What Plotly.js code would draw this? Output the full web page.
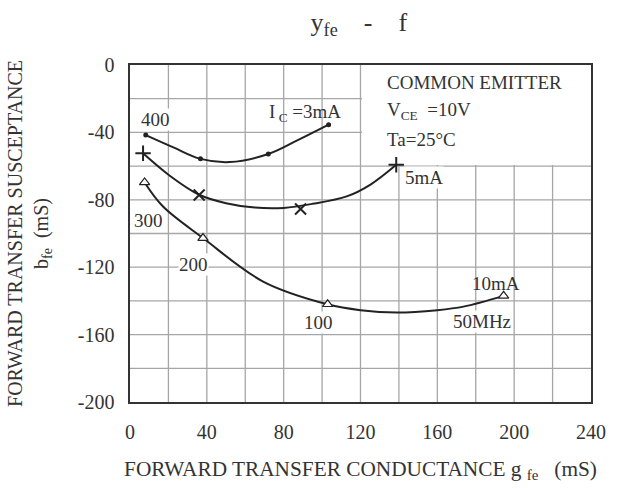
<!DOCTYPE html>
<html>
<head>
<meta charset="utf-8">
<script src="https://cdn.plot.ly/plotly-3.0.1.min.js"></script>
<style>html,body{margin:0;padding:0;background:#fff;}#chart{width:623px;height:488px;}</style>
</head>
<body>
<div id="chart"></div>
<script>
// ---- data ----
// Ic = 3 mA : traced curve and measured points
var ic3CurveX = [8.2, 22.6, 36.7, 52, 72, 86.8, 103.4];
var ic3CurveY = [-41.6, -48.9, -55.7, -57.6, -52.8, -44.9, -35.4];
var ic3PointX = [8.2, 36.7, 72, 103.4];
var ic3PointY = [-41.6, -55.7, -52.8, -35.4];

// Ic = 5 mA
var ic5CurveX = [6.8, 20.7, 36, 50, 65, 80, 95, 112.8, 125, 138.6];
var ic5CurveY = [-52.4, -65.7, -77, -82, -84.6, -84.8, -82.4, -78, -71.1, -59.2];
var ic5PointX = [6.8, 36, 88.8, 138.6];
var ic5PointY = [-52.4, -77.2, -85.5, -59.2];
var ic5Symbols = ['cross-thin-open', 'x-thin-open', 'x-thin-open', 'cross-thin-open'];

// Ic = 10 mA
var ic10CurveX = [7.6, 17.2, 38, 69.3, 102.9, 120, 138.9, 160, 173.6, 194.5];
var ic10CurveY = [-69.7, -84, -102.7, -128.5, -142, -145.5, -146.9, -145.5, -143.4, -137];
var ic10PointX = [7.6, 38, 102.9, 194.5];
var ic10PointY = [-69.7, -102.7, -142, -137];

// axis ticks (labels every 40)
var xTickVals = [0, 40, 80, 120, 160, 200, 240];
var xTickLabels = ['0', '40', '80', '120', '160', '200', '240'];
var yTickVals = [0, -40, -80, -120, -160, -200];
var yTickLabels = ['0', '-40', '-80', '-120', '-160', '-200'];
// grid every 20
var xGridVals = [20, 40, 60, 80, 100, 120, 140, 160, 180, 200, 220];
var yGridVals = [-20, -40, -60, -80, -100, -120, -140, -160, -180];

// in-plot labels
var labelTexts = ['400', 'I<sub> C</sub> =3mA', '300', '200', '100', '5mA', '10mA', '50MHz'];
var labelX = [13.1, 91.3, 9.7, 33.2, 98.1, 152.9, 190.4, 183.1];
var labelY = [-32.1, -28.6, -92.2, -118.6, -152.8, -66.6, -129.9, -152.5];
var labelBg = [true, false, true, true, true, true, false, true];

var condTexts = ['COMMON EMITTER', 'V<sub>CE</sub>  =10V', 'Ta=25°C'];
var condX = [132.8, 132.8, 132.8];
var condY = [-10.6, -27.4, -44.2];

// ---- drawing ----
var FONT = '"Liberation Serif", "Times New Roman", serif';
var TXT = '#333333';
var INK = '#222222';
var gridCol = '#a6a6a6';

var traces = [
  {x: ic3CurveX, y: ic3CurveY, mode: 'lines', line: {shape: 'spline', smoothing: 1, color: INK, width: 2}, hoverinfo: 'skip'},
  {x: ic5CurveX, y: ic5CurveY, mode: 'lines', line: {shape: 'spline', smoothing: 1, color: INK, width: 2}, hoverinfo: 'skip'},
  {x: ic10CurveX, y: ic10CurveY, mode: 'lines', line: {shape: 'spline', smoothing: 1, color: INK, width: 2}, hoverinfo: 'skip'},
  {x: ic3PointX, y: ic3PointY, mode: 'markers', marker: {symbol: 'circle', size: 5, color: INK}},
  {x: ic5PointX, y: ic5PointY, mode: 'markers', marker: {symbol: ic5Symbols, size: 11, color: INK, line: {color: INK, width: 2}}},
  {x: ic10PointX, y: ic10PointY, mode: 'markers', marker: {symbol: 'triangle-up', size: 9, color: '#ffffff', line: {color: INK, width: 1.2}}}
];

var shapes = [];
xGridVals.forEach(function (v) {
  shapes.push({type: 'line', xref: 'x', yref: 'paper', x0: v, x1: v, y0: 0, y1: 1, line: {color: gridCol, width: 1.3}, layer: 'below'});
});
yGridVals.forEach(function (v) {
  shapes.push({type: 'line', xref: 'paper', yref: 'y', x0: 0, x1: 1, y0: v, y1: v, line: {color: gridCol, width: 1.3}, layer: 'below'});
});
// blank panel behind the condition text (no grid there)
shapes.push({type: 'rect', xref: 'x', yref: 'y', x0: 120.8, x1: 240, y0: -59.3, y1: 0, fillcolor: '#ffffff', line: {width: 0}, layer: 'below'});

var annotations = [];
for (var i = 0; i < labelTexts.length; i++) {
  annotations.push({x: labelX[i], y: labelY[i], xref: 'x', yref: 'y', text: labelTexts[i], showarrow: false,
    xanchor: 'center', yanchor: 'middle', bgcolor: labelBg[i] ? '#ffffff' : 'rgba(0,0,0,0)', borderpad: 0,
    font: {family: FONT, size: 19, color: TXT}});
}
for (var j = 0; j < condTexts.length; j++) {
  annotations.push({x: condX[j], y: condY[j], xref: 'x', yref: 'y', text: condTexts[j], showarrow: false,
    xanchor: 'left', yanchor: 'middle', font: {family: FONT, size: 19, color: TXT}});
}

var layout = {
  width: 623, height: 488,
  margin: {l: 130, r: 32, t: 65, b: 86},
  paper_bgcolor: '#ffffff', plot_bgcolor: '#ffffff',
  showlegend: false,
  font: {family: FONT, color: TXT, size: 19},
  title: {text: 'y<sub>fe</sub>    -    f', x: 0.576, xanchor: 'center', y: 0.956, yanchor: 'middle', yref: 'container',
    font: {family: FONT, size: 26, color: TXT}},
  xaxis: {
    range: [0, 240], tickmode: 'array', tickvals: xTickVals, ticktext: xTickLabels,
    showgrid: false,
    zeroline: false, showline: true, mirror: true, linecolor: '#333333', linewidth: 1.6,
    ticks: '', ticklabelstandoff: 11, tickfont: {family: FONT, size: 20, color: TXT},
    title: {text: 'FORWARD TRANSFER CONDUCTANCE g <sub>fe</sub>   (mS)', standoff: 19, font: {family: FONT, size: 21.3, color: TXT}},
    fixedrange: true
  },
  yaxis: {
    range: [-200, 0], tickmode: 'array', tickvals: yTickVals, ticktext: yTickLabels,
    showgrid: false,
    zeroline: false, showline: true, mirror: true, linecolor: '#333333', linewidth: 1.6,
    ticks: '', ticklabelstandoff: 10, tickfont: {family: FONT, size: 20, color: TXT},
    title: {text: 'FORWARD TRANSFER SUSCEPTANCE<br>b<sub>fe</sub>  (mS)', standoff: 24, font: {family: FONT, size: 20, color: TXT}},
    fixedrange: true
  },
  shapes: shapes,
  annotations: annotations
};

Plotly.newPlot('chart', traces, layout, {staticPlot: true, displayModeBar: false});
</script>
</body>
</html>
